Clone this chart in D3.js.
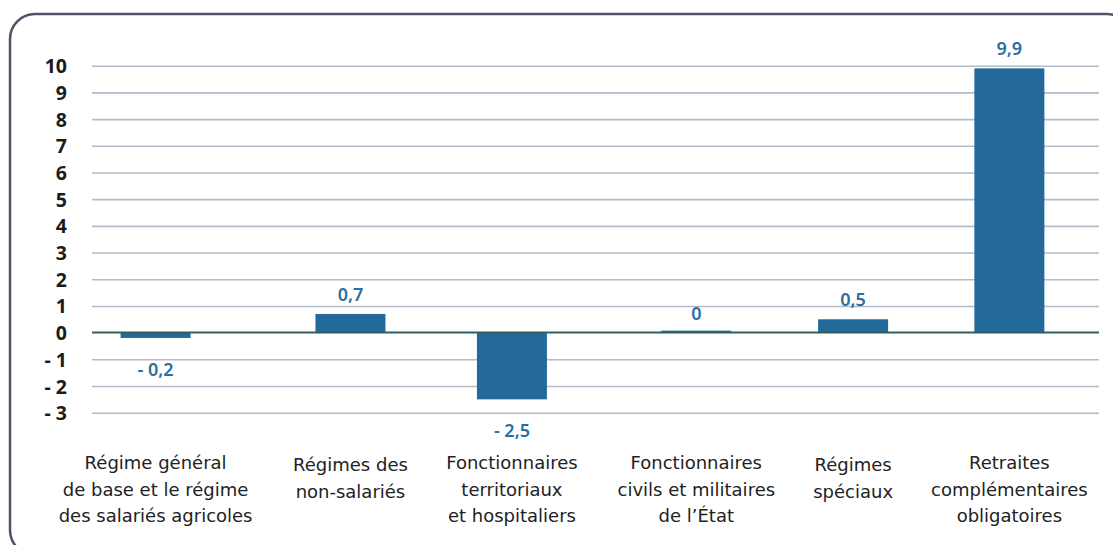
<!DOCTYPE html>
<html>
<head>
<meta charset="utf-8">
<script src="https://cdn.jsdelivr.net/npm/d3@7"></script>
<style>
  body { margin: 0; background: #fff; }
  svg { display: block; font-family: "Noto Sans", sans-serif; }
  .tick-label { font-size: 19.5px; font-weight: 700; fill: #1b1b1b; }
  .cat-label { font-family: "DejaVu Sans", sans-serif; font-size: 18px; fill: #222; }
  .val-label { font-size: 18px; font-weight: 600; fill: #2a6f9f; }
</style>
</head>
<body>
<div id="chart"></div>
<script>
// data
var categories = [
  ["Régime général", "de base et le régime", "des salariés agricoles"],
  ["Régimes des", "non-salariés"],
  ["Fonctionnaires", "territoriaux", "et hospitaliers"],
  ["Fonctionnaires", "civils et militaires", "de l’État"],
  ["Régimes", "spéciaux"],
  ["Retraites", "complémentaires", "obligatoires"]
];
var values = [-0.2, 0.7, -2.5, 0, 0.5, 9.9];
var yTicks = [-3, -2, -1, 0, 1, 2, 3, 4, 5, 6, 7, 8, 9, 10];

var width = 1113, height = 545;
var labelGap = 28, barWidth = 70;

var svg = d3.select("#chart").append("svg")
  .attr("width", width)
  .attr("height", height);

// frame
svg.append("rect")
  .attr("x", 10).attr("y", 14)
  .attr("width", 1122).attr("height", 541)
  .attr("rx", 25).attr("ry", 25)
  .attr("fill", "none")
  .attr("stroke", "#4b5466")
  .attr("stroke-width", 2.5);

var y = d3.scaleLinear()
  .domain([-3, 10])
  .range([412.7, 65.7]);

var fmt = function (v) {
  var s = d3.format(".1~f")(Math.abs(v)).replace(".", ",");
  return v < 0 ? "- " + s : s;
};

// gridlines + tick labels
var yAxis = d3.axisLeft(y)
  .tickValues(yTicks)
  .tickSize(-(1099 - 92))
  .tickFormat(fmt);

var ga = svg.append("g")
  .attr("transform", "translate(92,0)")
  .call(yAxis);
ga.attr("font-family", null).attr("font-size", null);
ga.select(".domain").remove();
ga.selectAll(".tick line")
  .attr("stroke", function (d) { return d === 0 ? "none" : "#b3bbca"; })
  .attr("stroke-width", 1.6);
ga.selectAll(".tick text")
  .attr("class", "tick-label")
  .attr("x", -25)
  .attr("dy", "0.36em");

// category labels first, so the columns can follow their widths
var cat = svg.append("g").selectAll("text")
  .data(categories)
  .join("text")
  .attr("class", "cat-label")
  .attr("text-anchor", "middle");
cat.selectAll("tspan")
  .data(function (d) { return d; })
  .join("tspan")
  .attr("x", 0)
  .attr("dy", function (d, j) { return j === 0 ? 0 : 26.5; })
  .text(function (d) { return d; });

var widths = [];
cat.each(function () {
  var w = 0;
  d3.select(this).selectAll("tspan").each(function () {
    w = Math.max(w, this.getComputedTextLength());
  });
  widths.push(w);
});
var starts = widths.map(function (w, i) {
  return d3.sum(widths.slice(0, i)) + i * labelGap;
});
var total = d3.sum(widths) + (widths.length - 1) * labelGap;
var x = d3.scaleLinear().domain([0, total]).range([52, 1093]);
var cx = function (i) { return x(starts[i] + widths[i] / 2); };

cat.attr("transform", function (d, i) {
  var dy = d.length === 2 ? 2 : 0;
  return "translate(" + cx(i) + "," + (469 + dy) + ")";
});

// bars
svg.append("g").selectAll("rect")
  .data(values)
  .join("rect")
  .attr("x", function (d, i) { return cx(i) - barWidth / 2; })
  .attr("width", barWidth)
  .attr("y", function (d) { return y(Math.max(0, d)) - (d === 0 ? 2 : 0); })
  .attr("height", function (d) { return Math.abs(y(d) - y(0)) + (d === 0 ? 2 : 0); })
  .attr("fill", "#236a9a");

// zero line
svg.append("line")
  .attr("x1", 92).attr("x2", 1099)
  .attr("y1", y(0)).attr("y2", y(0))
  .attr("stroke", "#2f5f5c")
  .attr("stroke-width", 2);

// value labels
svg.append("g").selectAll("text")
  .data(values)
  .join("text")
  .attr("class", "val-label")
  .attr("text-anchor", "middle")
  .attr("x", function (d, i) { return cx(i); })
  .attr("y", function (d) { return d < 0 ? y(d) + 38 : y(d) - 13; })
  .text(fmt);
</script>
</body>
</html>
